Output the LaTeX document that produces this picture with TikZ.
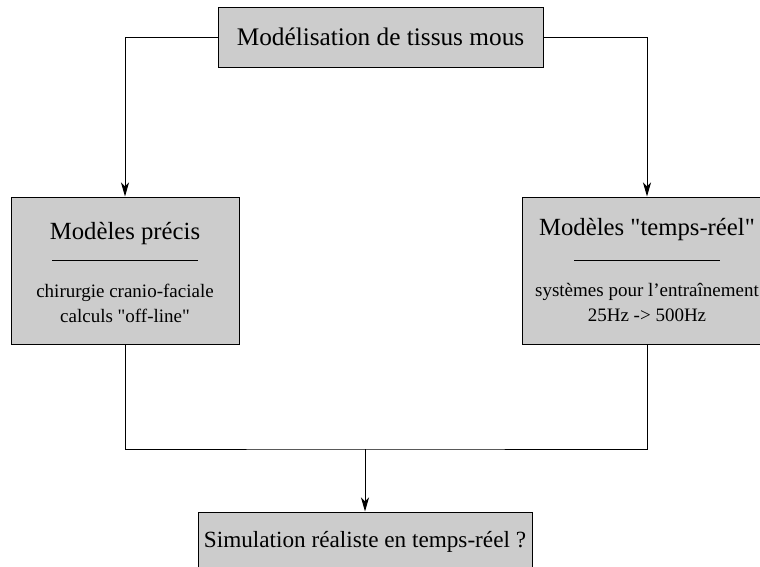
\documentclass[tikz,border=0pt]{standalone}
\usepackage{fontspec}
\setmainfont{Liberation Serif}[Ligatures=TeXOff]
\usetikzlibrary{arrows.meta}
\begin{document}
\begin{tikzpicture}[x=1pt,y=-1pt,
  box/.style={draw=black,line width=1pt,fill=black!20,inner sep=0pt},
  conn/.style={draw=black,line width=1pt},
  arr/.style={conn,-{Stealth[length=14pt,width=8pt,inset=4pt]}},
  toptxtstyle/.style={font=\fontsize{25.3}{30}\selectfont,inner sep=0pt,anchor=base},
  bigtxt/.style={font=\fontsize{24.7}{29}\selectfont,inner sep=0pt,anchor=base},
  midtxt/.style={font=\fontsize{23.2}{27}\selectfont,inner sep=0pt,anchor=base},
  smalltxt/.style={font=\fontsize{19}{25}\selectfont,inner sep=0pt,anchor=base}]
\useasboundingbox (0,0) rectangle (760,567);
% boxes
\node[box,minimum width=325pt,minimum height=60pt] (top) at (380.5,38) {};
\node[toptxtstyle] (toptxt) at (380.5,46) {Modélisation de tissus mous};
\node[box,minimum width=228pt,minimum height=147pt] (left) at (125,270.5) {};
\node[box,minimum width=250pt,minimum height=147pt] (right) at (647,270.5) {};
\node[box,minimum width=334pt,minimum height=60pt] (bottom) at (365,542) {};
\node[midtxt] (bottxt) at (365,547) {Simulation réaliste en temps-réel ?};
% left box content
\node[bigtxt] (ltitle) at (125,239) {Modèles précis};
\coordinate (lr1) at (52,260);
\coordinate (lr2) at (198,260);
\draw[conn] (lr1) -- (lr2);
\node[smalltxt] (l1) at (125,297) {chirurgie cranio-faciale};
\node[smalltxt] (l2) at (125,322) {calculs "off-line"};
% right box content
\node[bigtxt] (rtitle) at (647,235) {Modèles "temps-réel"};
\coordinate (rr1) at (574,260);
\coordinate (rr2) at (720,260);
\draw[conn] (rr1) -- (rr2);
\node[smalltxt] (r1) at (647,296) {systèmes pour l’entraînement};
\node[smalltxt] (r2) at (647,321) {25Hz -> 500Hz};
% connectors
\draw[arr] (top.west) -| (left.north);
\draw[arr] (top.east) -| (right.north);
\coordinate (join) at (365,449);
\draw[conn] (left.south) |- (join) -| (right.south);
\draw[arr] (join) -- (bottom.north);
\end{tikzpicture}
\end{document}
